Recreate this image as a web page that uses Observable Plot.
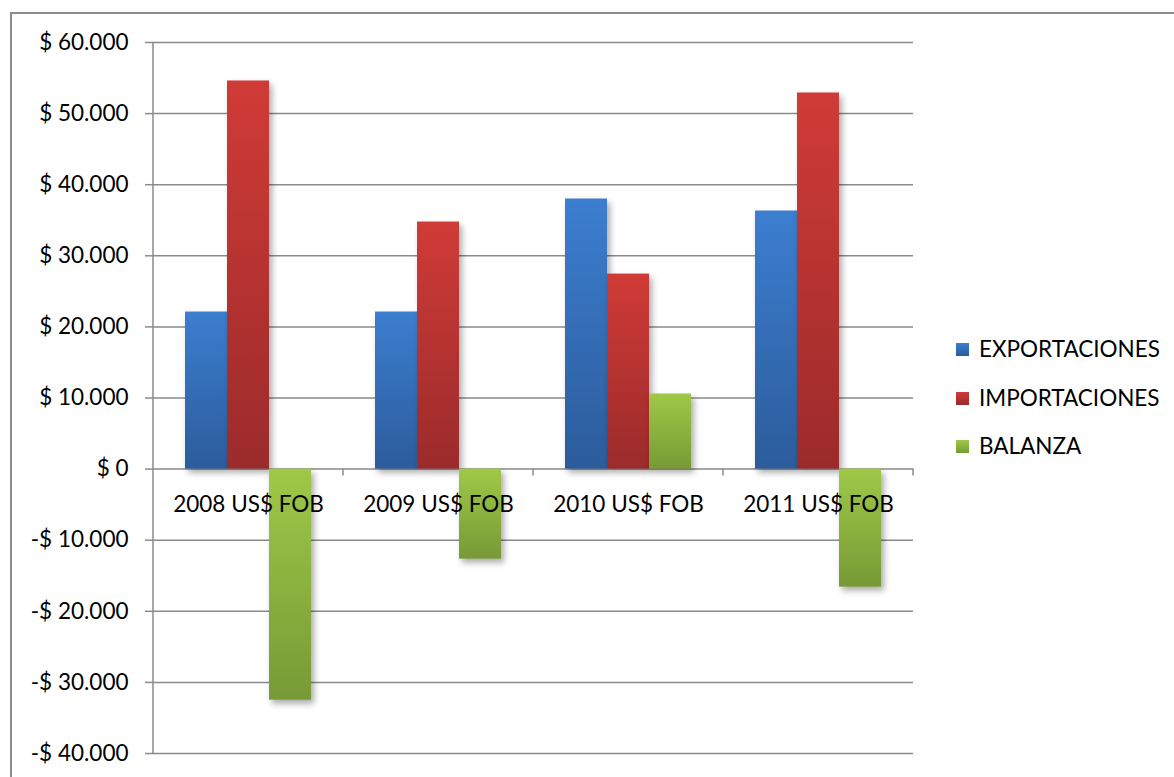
<!DOCTYPE html>
<html>
<head>
<meta charset="utf-8">
<script src="https://cdn.jsdelivr.net/npm/d3@7"></script>
<script src="https://cdn.jsdelivr.net/npm/@observablehq/plot@0.6"></script>
<style>
  html, body { margin: 0; padding: 0; background: #fff; overflow: hidden; }
  #wrap { position: relative; width: 1174px; height: 777px; font-family: Lato, "Open Sans", sans-serif; }
  #border { position: absolute; left: 10px; top: 12px; width: 1200px; height: 800px; border: 2px solid #8c8c8c; box-sizing: border-box; }
  #chart { position: absolute; left: 0; top: 0; }
  #chart g[aria-label="bar"] rect { filter: drop-shadow(3px 4px 3px rgba(0,0,0,0.33)); }
  .leg { position: absolute; left: 956px; font-size: 22.5px; color: #000; line-height: 1; display: flex; align-items: center; }
  .leg .sw { width: 13px; height: 13px; margin-right: 10px; }
</style>
</head>
<body>
<svg width="0" height="0" style="position:absolute">
  <defs>
    <linearGradient id="gExp" x1="0" y1="0" x2="0" y2="1">
      <stop offset="0" stop-color="#3C7ED0"/><stop offset="1" stop-color="#2C5C9B"/>
    </linearGradient>
    <linearGradient id="gImp" x1="0" y1="0" x2="0" y2="1">
      <stop offset="0" stop-color="#D03B37"/><stop offset="1" stop-color="#9B2B2B"/>
    </linearGradient>
    <linearGradient id="gBal" x1="0" y1="0" x2="0" y2="1">
      <stop offset="0" stop-color="#9FC847"/><stop offset="1" stop-color="#779A36"/>
    </linearGradient>
  </defs>
</svg>
<div id="wrap">
  <div id="border"></div>
  <div id="chart"></div>
  <div id="legend"></div>
</div>
<script>
const years = ["2008", "2009", "2010", "2011"];
const yearLabels = ["2008 US$ FOB", "2009 US$ FOB", "2010 US$ FOB", "2011 US$ FOB"];
const series = ["EXPORTACIONES", "IMPORTACIONES", "BALANZA"];
const exportaciones = [22090, 22090, 37990, 36300];
const importaciones = [54590, 34750, 27430, 52900];
const balanza = [-32500, -12660, 10560, -16600];
const yTicks = [-40000, -30000, -20000, -10000, 0, 10000, 20000, 30000, 40000, 50000, 60000];
const fills = ["url(#gExp)", "url(#gImp)", "url(#gBal)"];
const legendBg = [
  "linear-gradient(#3C7ED0,#2C5C9B)",
  "linear-gradient(#D03B37,#9B2B2B)",
  "linear-gradient(#9FC847,#779A36)"
];

const valuesBySeries = [exportaciones, importaciones, balanza];
const rows = [];
years.forEach((yr, i) => series.forEach((s, j) => rows.push({year: yr, series: s, value: valuesBySeries[j][i]})));

const fmt = d => {
  const a = Math.abs(d);
  const s = a === 0 ? "0" : d3.format(",")(a).replace(/,/g, ".");
  return (d < 0 ? "-" : "") + "$ " + s;
};

const gridColor = "#8a8a8a";
const fs = 22.5;

const chart = Plot.plot({
  width: 1174,
  height: 777,
  marginLeft: 153,
  marginRight: 261,
  marginTop: 42,
  marginBottom: 24,
  style: {fontFamily: "Lato, 'Open Sans', sans-serif", fontSize: fs + "px", color: "#000", background: "transparent", overflow: "visible"},
  fx: {domain: years, padding: 0, axis: null},
  x: {domain: series, paddingInner: 0, paddingOuter: 0.76, axis: null},
  y: {domain: [-40000, 60000], label: null},
  color: {domain: series, range: fills},
  marks: [
    Plot.gridY(yTicks, {stroke: gridColor, strokeOpacity: 1, strokeWidth: 1.5}),
    Plot.axisY(yTicks, {tickSize: 8, tickPadding: 17, stroke: gridColor, strokeWidth: 1.5, tickFormat: fmt, fontSize: fs, fill: "#000", label: null}),
    Plot.barY(rows, {fx: "year", x: "series", y: "value", fill: "series"}),
    Plot.text(years, {fx: d => d, y: () => 0, text: (d, i) => yearLabels[i], dy: 36, fontSize: fs, fill: "#000", lineAnchor: "middle"})
  ]
});
document.getElementById("chart").appendChild(chart);

// y-axis line and category boundary ticks, positioned through Plot's scales
const fxS = chart.scale("fx");
const yS = chart.scale("y");
const svg = d3.select(chart);
const g = svg.append("g").attr("stroke", gridColor).attr("stroke-width", 1.5);
const x0 = fxS.apply(years[0]);
g.append("line").attr("x1", x0).attr("x2", x0).attr("y1", yS.apply(60000)).attr("y2", yS.apply(-40000));
years.forEach(yr => {
  const xb = fxS.apply(yr) + fxS.bandwidth;
  g.append("line").attr("x1", xb).attr("x2", xb).attr("y1", yS.apply(0)).attr("y2", yS.apply(0) + 7);
});

// legend
const legendTops = [349, 398, 446];
const leg = document.getElementById("legend");
series.forEach((s, i) => {
  const el = document.createElement("div");
  el.className = "leg";
  el.style.top = (legendTops[i] - 11) + "px";
  el.innerHTML = `<span class="sw" style="background:${legendBg[i]}"></span><span>${s}</span>`;
  leg.appendChild(el);
});
</script>
</body>
</html>
